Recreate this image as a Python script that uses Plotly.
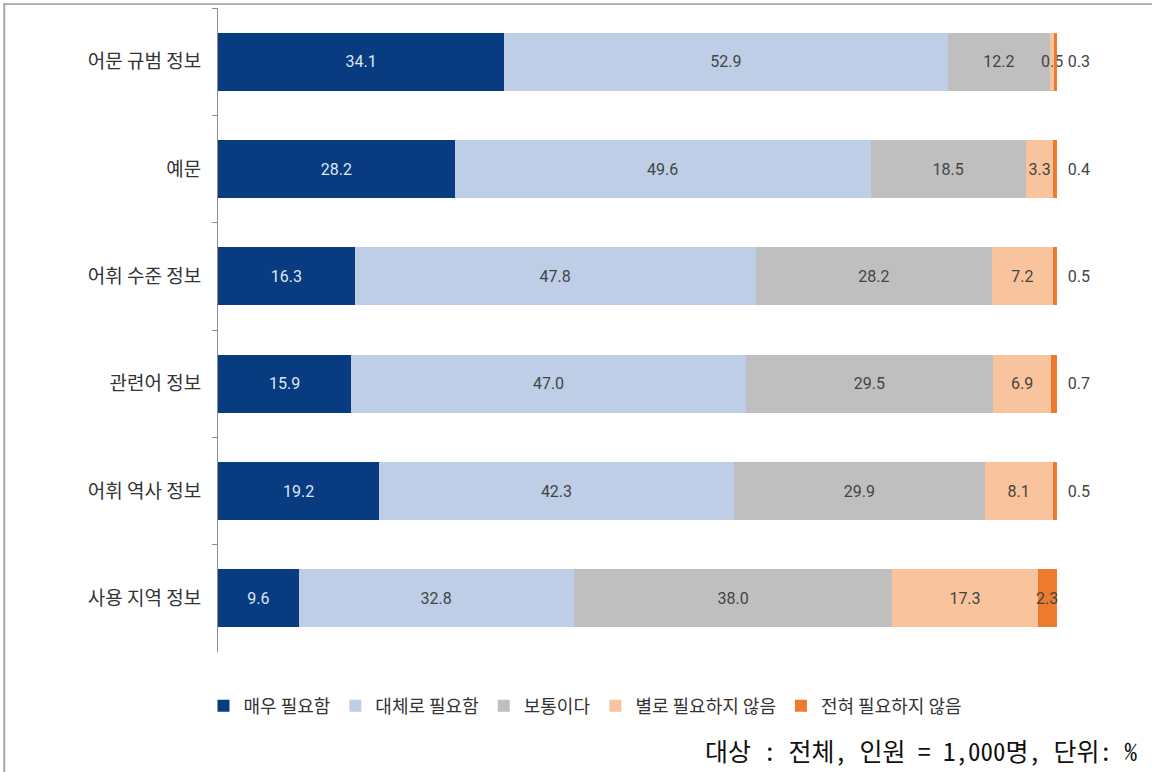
import plotly.graph_objects as go

categories = ["어문 규범 정보", "예문", "어휘 수준 정보", "관련어 정보", "어휘 역사 정보", "사용 지역 정보"]
series_names = ["매우 필요함", "대체로 필요함", "보통이다", "별로 필요하지 않음", "전혀 필요하지 않음"]
very_needed = [34.1, 28.2, 16.3, 15.9, 19.2, 9.6]
mostly_needed = [52.9, 49.6, 47.8, 47.0, 42.3, 32.8]
neutral = [12.2, 18.5, 28.2, 29.5, 29.9, 38.0]
not_much = [0.5, 3.3, 7.2, 6.9, 8.1, 17.3]
not_at_all = [0.3, 0.4, 0.5, 0.7, 0.5, 2.3]
footer = "대상 : 전체, 인원 = 1,000명, 단위: %"

colors = ["#083b7f", "#bdcee6", "#bfbfbf", "#f8c39d", "#ec7b30"]
text_colors = ["#dde7f5", "#444444", "#444444", "#444444", "#444444"]
all_values = [very_needed, mostly_needed, neutral, not_much, not_at_all]

fig = go.Figure()
for i, (name, vals) in enumerate(zip(series_names, all_values)):
    if i == 4:
        tpos = ["inside" if v >= 2 else "outside" for v in vals]
        texts = [f"{v:.1f}" if v >= 2 else "\u00a0\u00a0" + f"{v:.1f}" for v in vals]
    else:
        tpos = "inside"
        texts = [f"{v:.1f}" for v in vals]
    fig.add_trace(go.Bar(
        name=name, y=categories, x=vals, orientation="h",
        marker=dict(color=colors[i], line=dict(width=0)),
        text=texts, textposition=tpos,
        insidetextanchor="middle", constraintext="none", textangle=0,
        textfont=dict(family="Roboto, Noto Sans CJK KR", size=16, color=text_colors[i]),
        outsidetextfont=dict(family="Roboto, Noto Sans CJK KR", size=16, color="#444444"),
        cliponaxis=False,
    ))

fig.update_layout(
    barmode="stack",
    width=1152, height=772,
    margin=dict(l=218, r=95, t=8, b=120),
    plot_bgcolor="white", paper_bgcolor="white",
    bargap=0.46,
    font=dict(family="Noto Sans CJK KR", color="#333333"),
    legend=dict(orientation="h", x=0.438, xanchor="center", y=-0.084, yanchor="middle",
                font=dict(size=18, color="#333333"), traceorder="normal",
                itemwidth=30, itemsizing="constant"),
    xaxis=dict(range=[0, 100.02], visible=False),
    yaxis=dict(autorange="reversed", showline=True, linecolor="#8c8c8c", linewidth=1,
               ticks="outside", tickson="boundaries", ticklen=5, tickcolor="#8c8c8c",
               ticklabelstandoff=12,
               tickfont=dict(size=19, color="#333333", family="Noto Sans CJK KR")),
    annotations=[dict(text=footer, xref="paper", yref="paper", x=1.099, y=-0.152,
                      xanchor="right", yanchor="middle", showarrow=False,
                      font=dict(size=25, color="#111111",
                                family="Noto Sans Mono CJK KR, Noto Sans CJK KR"))],
    shapes=[
        dict(type="rect", xref="paper", yref="paper", x0=-0.256, x1=1.2, y0=1.0045, y1=1.0075,
             line=dict(width=0), fillcolor="#a8a8a8", layer="above"),
        dict(type="rect", xref="paper", yref="paper", x0=-0.256, x1=-0.2536, y0=-0.3, y1=1.0075,
             line=dict(width=0), fillcolor="#a8a8a8", layer="above"),
    ],
)

fig.write_html("out.html", config={"displayModeBar": False},
               post_script="document.body.style.margin='0';document.body.style.padding='0';")
